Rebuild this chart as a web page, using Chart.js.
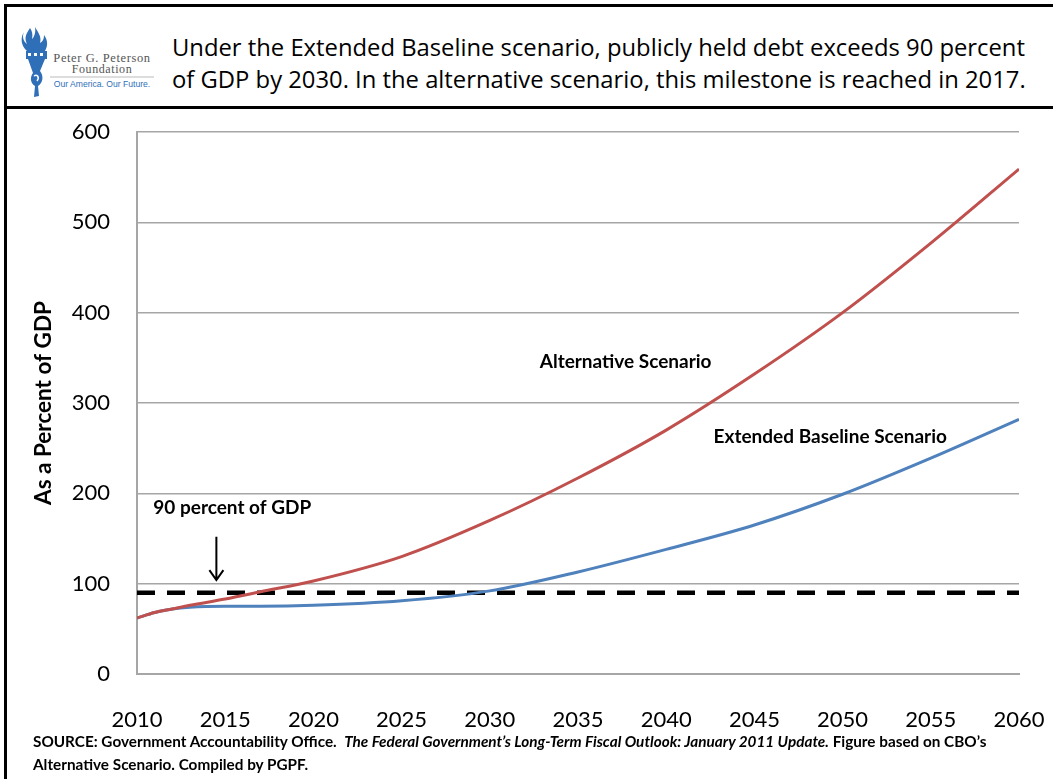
<!DOCTYPE html>
<html>
<head>
<meta charset="utf-8">
<script src="https://cdn.jsdelivr.net/npm/chart.js@4.4.1/dist/chart.umd.min.js"></script>
<style>
  html, body { margin: 0; padding: 0; background: #fff; }
  body { width: 1053px; height: 779px; position: relative; overflow: hidden; font-family: Lato, sans-serif; }
  .frame { position: absolute; left: 4px; top: 4px; width: 1049px; height: 775px; border-left: 3px solid #000; border-top: 3px solid #000; }
  .header { position: absolute; left: 7px; top: 7px; width: 1046px; height: 99px; border-bottom: 3px solid #000; }
  .logo { position: absolute; left: 18px; top: 26px; }
  .title { position: absolute; left: 172px; top: 31px; font-family: "Open Sans", sans-serif; font-size: 23.8px; line-height: 32px; color: #000; white-space: nowrap; }
  #wrap { position: absolute; left: 8px; top: 110px; width: 1045px; height: 625px; }
  .source { position: absolute; left: 33px; top: 730px; font-weight: bold; font-size: 15.3px; line-height: 23px; color: #000; white-space: nowrap; }
</style>
</head>
<body>
<div class="frame"></div>
<div class="header"></div>

<svg class="logo" width="145" height="75" viewBox="0 0 145 75">
  <!-- torch -->
  <path d="M12 2 C8 8 6 12 9 18 C5 15 4 10 6 6 C2 12 3 20 9 25 L27 25 C30 20 30 14 26 9 C26 14 24 16 22 17 C24 11 20 6 17 1 C18 7 16 11 14 13 C15 8 14 5 12 2 Z" fill="#2f6fb8"/>
  <rect x="8" y="25" width="21" height="8" fill="#2f6fb8"/>
  <rect x="10" y="27" width="3" height="3" fill="#fff"/>
  <rect x="16" y="27" width="3" height="3" fill="#fff"/>
  <rect x="22" y="27" width="3" height="3" fill="#fff"/>
  <path d="M10 33 L27 33 L22 45 C26 50 25 57 20 60 L21 70 L16 71 L17 60 C12 57 12 51 15 47 Z" fill="#2f6fb8"/>
  <path d="M16 50 C19 48 22 51 19 55" stroke="#fff" stroke-width="1.5" fill="none"/>
  <!-- wordmark -->
  <text x="84" y="36" font-family="Liberation Serif, DejaVu Serif, serif" font-size="12.5" fill="#555" text-anchor="middle" letter-spacing="0.6">Peter G. Peterson</text>
  <text x="84" y="47" font-family="Liberation Serif, DejaVu Serif, serif" font-size="12" fill="#555" text-anchor="middle" letter-spacing="0.6">Foundation</text>
  <line x1="32" y1="51" x2="136" y2="51" stroke="#bbb" stroke-width="1"/>
  <text x="84" y="61" font-family="Liberation Sans, Arial, sans-serif" font-size="8.6" fill="#2f6fb8" text-anchor="middle">Our America. Our Future.</text>
</svg>

<div class="title">Under the Extended Baseline scenario, publicly held debt exceeds 90 percent<br>of GDP by 2030. In the alternative scenario, this milestone is reached in 2017.</div>

<div id="wrap"><canvas id="debtChart" width="1045" height="625"></canvas></div>

<div class="source">SOURCE: Government Accountability Office.&nbsp; <i>The Federal Government’s Long-Term Fiscal Outlook: January 2011 Update.</i> Figure based on CBO’s<br>Alternative Scenario. Compiled by PGPF.</div>

<script>
// debt held by the public, percent of GDP
const years       = [2010, 2011, 2012, 2013, 2015, 2017, 2020, 2025, 2030, 2035, 2040, 2045, 2050, 2055, 2060];
const alternative = [62, 68, 72, 76, 83, 91, 103, 130, 170, 217, 270, 332, 400, 477, 559];
const baseline    = [62, 68, 72, 74, 75, 75, 76, 81, 92, 113, 138, 165, 199, 239, 282];
const thresholdYears = [2010, 2060];
const threshold = 90;

const xTicks = [2010, 2015, 2020, 2025, 2030, 2035, 2040, 2045, 2050, 2055, 2060];
const yTicks = [0, 100, 200, 300, 400, 500, 600];

const toPoints = (xs, ys) => xs.map((x, i) => ({ x: x, y: ys[i] }));

// text labels and the arrow, anchored in data units
const chartNotes = {
  id: 'chartNotes',
  afterDatasetsDraw(chart) {
    const { ctx, scales: { x, y } } = chart;
    ctx.save();
    ctx.fillStyle = '#000';
    ctx.font = 'bold 19px Lato';
    ctx.textAlign = 'center';
    ctx.textBaseline = 'middle';
    ctx.fillText('Alternative Scenario', x.getPixelForValue(2037.7), y.getPixelForValue(345));
    ctx.fillText('Extended Baseline Scenario', x.getPixelForValue(2049.3), y.getPixelForValue(262));
    ctx.fillText(threshold + ' percent of GDP', x.getPixelForValue(2015.4), y.getPixelForValue(184));

    // arrow down to the 90% line
    const ax = x.getPixelForValue(2014.5);
    const y0 = y.getPixelForValue(152);
    const y1 = y.getPixelForValue(104);
    ctx.strokeStyle = '#000';
    ctx.lineWidth = 2;
    ctx.beginPath();
    ctx.moveTo(ax, y0);
    ctx.lineTo(ax, y1);
    ctx.moveTo(ax - 7, y1 - 10);
    ctx.lineTo(ax, y1);
    ctx.lineTo(ax + 7, y1 - 10);
    ctx.stroke();
    ctx.restore();
  }
};

new Chart(document.getElementById('debtChart'), {
  type: 'line',
  data: {
    datasets: [
      {
        label: 'Alternative Scenario',
        data: toPoints(years, alternative),
        borderColor: '#c0504d',
        borderWidth: 3,
        pointRadius: 0,
        cubicInterpolationMode: 'monotone'
      },
      {
        label: 'Extended Baseline Scenario',
        data: toPoints(years, baseline),
        borderColor: '#4f81bd',
        borderWidth: 3,
        pointRadius: 0,
        cubicInterpolationMode: 'monotone'
      },
      {
        label: '90 percent of GDP',
        data: thresholdYears.map(yr => ({ x: yr, y: threshold })),
        borderColor: '#000',
        borderWidth: 4.5,
        borderDash: [18, 12],
        pointRadius: 0
      }
    ]
  },
  options: {
    responsive: false,
    animation: false,
    layout: { padding: { top: 22, right: 34, left: 0, bottom: 0 } },
    plugins: {
      legend: { display: false },
      tooltip: { enabled: false }
    },
    scales: {
      x: {
        type: 'linear',
        min: 2010,
        max: 2060,
        afterBuildTicks: (scale) => { scale.ticks = xTicks.map(v => ({ value: v })); },
        afterFit: (scale) => {
          scale.height = 61;
          scale.paddingLeft = 0;
          scale.paddingRight = 0;
        },
        grid: { display: false, drawTicks: false },
        border: { display: true, color: '#a6a6a6', width: 2 },
        ticks: {
          padding: 33,
          color: '#000',
          font: { family: 'Lato', size: 22 },
          callback: (v) => String(v)
        }
      },
      y: {
        min: 0,
        max: 600,
        afterBuildTicks: (scale) => { scale.ticks = yTicks.map(v => ({ value: v })); },
        afterFit: (scale) => {
          scale.width = 129;
          scale.paddingTop = 0;
          scale.paddingBottom = 0;
        },
        grid: { color: '#a6a6a6', lineWidth: 1.5, drawTicks: false },
        border: { display: true, color: '#a6a6a6', width: 2 },
        ticks: {
          padding: 27,
          color: '#000',
          font: { family: 'Lato', size: 22 }
        },
        title: {
          display: true,
          text: 'As a Percent of GDP',
          color: '#000',
          font: { family: 'Lato', size: 22.5, weight: 'bold' },
          padding: { top: 22, bottom: 0 }
        }
      }
    }
  },
  plugins: [chartNotes]
});
</script>
</body>
</html>
